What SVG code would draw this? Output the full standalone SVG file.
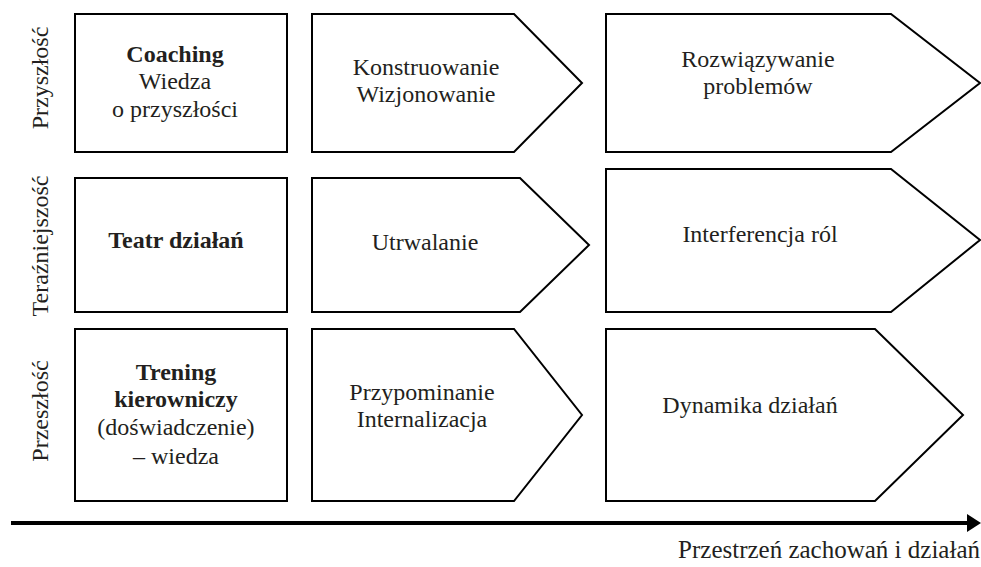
<svg xmlns="http://www.w3.org/2000/svg" width="981" height="567" viewBox="0 0 981 567">
<style>
.box{fill:#fff;stroke:#000;stroke-width:2;stroke-linejoin:miter}
text{font-family:"Liberation Serif","Times New Roman",serif;font-size:24px;fill:#231f20;text-anchor:middle}
.b{font-weight:bold}
.axis{stroke:#000;stroke-width:4}
</style>
<g id="label-przyszlosc"><text transform="translate(48,78) rotate(-90)">Przyszłość</text></g>
<g id="label-terazniejszosc"><text transform="translate(48,246) rotate(-90)">Teraźniejszość</text></g>
<g id="label-przeszlosc"><text transform="translate(48,411) rotate(-90)">Przeszłość</text></g>

<g id="coaching">
<rect class="box" x="75" y="14" width="212" height="138"/>
<text x="175" y="62" class="b">Coaching</text>
<text x="175" y="89">Wiedza</text>
<text x="175" y="117">o przyszłości</text>
</g>
<g id="konstruowanie">
<polygon class="box" points="312,14 514,14 582,83 514,152 312,152"/>
<text x="426" y="75">Konstruowanie</text>
<text x="426" y="102">Wizjonowanie</text>
</g>
<g id="rozwiazywanie">
<polygon class="box" points="606,14 891,14 980,83 891,152 606,152"/>
<text x="758" y="67">Rozwiązywanie</text>
<text x="758" y="94">problemów</text>
</g>

<g id="teatr">
<rect class="box" x="75" y="178" width="212" height="134"/>
<text x="176" y="248" class="b">Teatr działań</text>
</g>
<g id="utrwalanie">
<polygon class="box" points="312,178 520,178 589,245 520,312 312,312"/>
<text x="425" y="250">Utrwalanie</text>
</g>
<g id="interferencja">
<polygon class="box" points="606,169 891,169 980,240 891,312 606,312"/>
<text x="760" y="242">Interferencja ról</text>
</g>

<g id="trening">
<rect class="box" x="75" y="329" width="212" height="172"/>
<text x="176" y="380" class="b">Trening</text>
<text x="176" y="407" class="b">kierowniczy</text>
<text x="176" y="435">(doświadczenie)</text>
<text x="176" y="464">– wiedza</text>
</g>
<g id="przypominanie">
<polygon class="box" points="312,329 514,329 582,415 514,501 312,501"/>
<text x="422" y="400">Przypominanie</text>
<text x="422" y="427">Internalizacja</text>
</g>
<g id="dynamika">
<polygon class="box" points="606,329 875,329 963,415 875,501 606,501"/>
<text x="750" y="413">Dynamika działań</text>
</g>

<g id="connectors">
<line class="axis" x1="11" y1="523" x2="970" y2="523"/>
<polygon points="967,514 981,523 967,532" fill="#000"/>
</g>
<g id="axis-label"><text x="980" y="558" style="text-anchor:end;font-size:25px">Przestrzeń zachowań i działań</text></g>
</svg>
